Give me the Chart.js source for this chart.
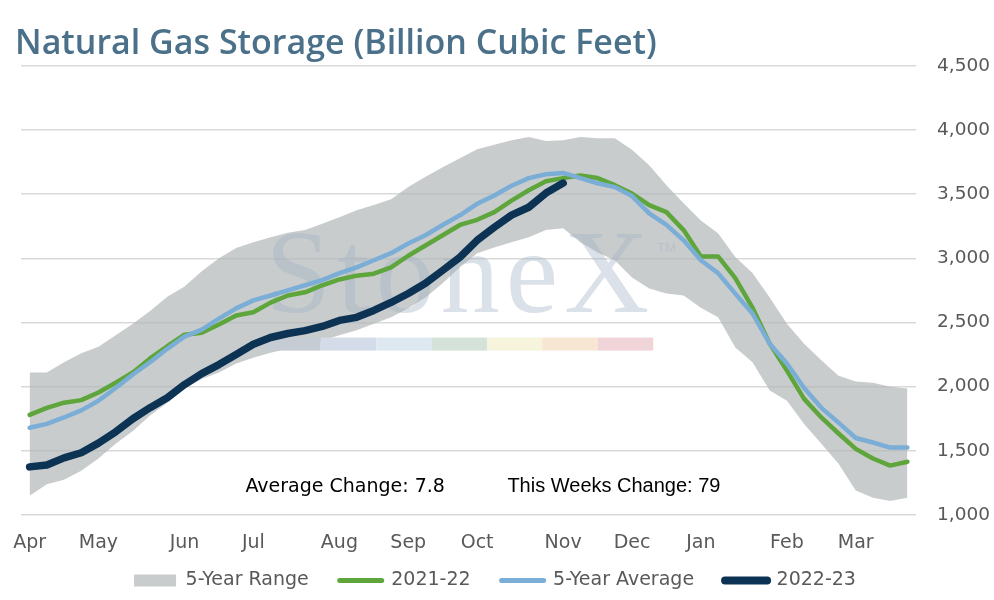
<!DOCTYPE html>
<html lang="en">
<head>
    <meta charset="UTF-8">
    <meta name="viewport" content="width=device-width, initial-scale=1.0">
    <title>Natural Gas Storage</title>
    <script src="https://cdn.jsdelivr.net/npm/chart.js"></script>
    <style>
        body {
            margin: 0;
            background: #fff;
        }
        .chart-container {
            position: relative;
            width: 994px;
            height: 600px;
        }
    </style>
</head>
<body>
    <div class="chart-container">
        <canvas id="storageChart"></canvas>
    </div>

    <script>
        // weekly storage, first week of April to last week of March
        const monthNames = ['Apr', 'May', 'Jun', 'Jul', 'Aug', 'Sep', 'Oct', 'Nov', 'Dec', 'Jan', 'Feb', 'Mar'];
        const monthWeeks = [0, 4, 9, 13, 18, 22, 26, 31, 35, 39, 44, 48];
        const weekCount = 52;

        const rangeHigh = [2110, 2110, 2190, 2260, 2310, 2400, 2490, 2590, 2700, 2780, 2900, 3000, 3080,
            3125, 3165, 3200, 3220, 3270, 3320, 3375, 3415, 3460, 3555, 3635, 3710, 3780,
            3850, 3885, 3920, 3945, 3915, 3920, 3945, 3935, 3935, 3845, 3725, 3570, 3430,
            3295, 3195, 3010, 2885, 2695, 2490, 2335, 2205, 2085, 2040, 2030, 2000, 1985];
        const rangeLow = [1150, 1240, 1275, 1345, 1440, 1555, 1655, 1775, 1875, 1985, 2060, 2110, 2180,
            2225, 2265, 2295, 2320, 2360, 2400, 2440, 2490, 2540, 2610, 2695, 2805, 2930,
            3040, 3085, 3125, 3165, 3220, 3235, 3125, 3045, 2985, 2850, 2765, 2725, 2710,
            2615, 2540, 2305, 2190, 1970, 1890, 1710, 1555, 1400, 1190, 1135, 1110, 1135];
        const storage2122 = [1780, 1835, 1875, 1895, 1955, 2030, 2110, 2220, 2315, 2405, 2420, 2485, 2555,
            2580, 2655, 2710, 2735, 2790, 2835, 2865, 2880, 2930, 3020, 3100, 3180, 3260,
            3300, 3360, 3450, 3530, 3600, 3625, 3645, 3625, 3570, 3505, 3415, 3360, 3220,
            3015, 3015, 2845, 2615, 2335, 2125, 1905, 1760, 1635, 1515, 1440, 1385, 1415];
        const fiveYearAvg = [1680, 1710, 1760, 1815, 1890, 1990, 2095, 2190, 2295, 2390, 2445, 2530, 2610,
            2672, 2710, 2750, 2790, 2830, 2885, 2930, 2985, 3040, 3115, 3180, 3260, 3335,
            3425, 3490, 3565, 3625, 3655, 3665, 3625, 3585, 3555, 3485, 3350, 3260, 3140,
            2985, 2885, 2725, 2570, 2335, 2180, 1990, 1835, 1720, 1600, 1565, 1525, 1525];
        const storage2223 = [1375, 1390, 1445, 1485, 1560, 1648, 1750, 1836, 1914, 2016, 2102, 2172, 2250,
            2330, 2383, 2414, 2437, 2469, 2516, 2540, 2594, 2656, 2726, 2805, 2906, 3008,
            3140, 3242, 3336, 3398, 3508, 3586];

        const avgChangeText = 'Average Change: 7.8';
        const weekChangeText = 'This Weeks Change: 79';

        const weekLabels = Array.from({ length: weekCount }, (_, i) => {
            const m = monthWeeks.indexOf(i);
            return m >= 0 ? monthNames[m] : '';
        });

        const bandColor = 'rgba(179, 183, 185, 0.71)'; // see-through so the grid shows
        const bandSwatch = '#c9cccd';
        const textGray = '#595959';
        const wideSans = '"DejaVu Sans", sans-serif';

        // StoneX logo sitting behind the lines, over the range band
        const watermark = {
            id: 'watermark',
            afterDatasetDraw(chart, args) {
                if (args.index !== 0) return;
                const { ctx, chartArea: a } = chart;
                const w = a.right - a.left, h = a.bottom - a.top;
                const x0 = a.left + w * 0.273;
                ctx.save();
                ctx.fillStyle = 'rgba(160, 175, 195, 0.38)';
                ctx.font = '118px "Liberation Serif", serif';
                ctx.letterSpacing = '6px';
                ctx.textBaseline = 'alphabetic';
                ctx.fillText('StoneX', x0, a.top + h * 0.549);
                ctx.letterSpacing = '0px';
                ctx.font = '13px "Liberation Sans", sans-serif';
                ctx.fillText('TM', a.left + w * 0.711, a.top + h * 0.415);
                const strip = ['#c5ccd4', '#d3dce8', '#dde8f1', '#d5e2da', '#f6f4dc', '#f7e6d3', '#f0d4d8'];
                const segW = w * 0.0619;
                strip.forEach((c, i) => {
                    ctx.fillStyle = c;
                    ctx.fillRect(x0 + i * segW, a.top + h * 0.605, segW, h * 0.029);
                });
                ctx.restore();
            }
        };

        const changeNotes = {
            id: 'changeNotes',
            afterDraw(chart) {
                const { ctx, scales: { x, y } } = chart;
                const ty = y.getPixelForValue(1219);
                ctx.save();
                ctx.fillStyle = '#000';
                ctx.textBaseline = 'middle';
                ctx.textAlign = 'left';
                ctx.font = '19px ' + wideSans;
                ctx.fillText(avgChangeText, x.getPixelForValue(12.54), ty);
                ctx.font = '20px "Liberation Sans", sans-serif';
                ctx.fillText(weekChangeText, x.getPixelForValue(27.76), ty);
                ctx.restore();
            }
        };

        const legendLineWidths = [0, 5, 5, 8];

        new Chart(document.getElementById('storageChart'), {
            type: 'line',
            data: {
                labels: weekLabels,
                datasets: [
                    {
                        label: '5-Year Range',
                        data: rangeHigh,
                        borderColor: 'rgba(0,0,0,0)',
                        borderWidth: 0,
                        backgroundColor: bandColor,
                        fill: 4,
                        order: 10
                    },
                    {
                        label: '2021-22',
                        data: storage2122,
                        borderColor: '#5ea63b',
                        borderWidth: 4.5,
                        fill: false,
                        order: 3
                    },
                    {
                        label: '5-Year Average',
                        data: fiveYearAvg,
                        borderColor: '#7aaed6',
                        borderWidth: 4.5,
                        fill: false,
                        order: 2
                    },
                    {
                        label: '2022-23',
                        data: storage2223,
                        borderColor: '#0c3354',
                        borderWidth: 7.5,
                        fill: false,
                        order: 1
                    },
                    {
                        label: 'rangeLow',
                        data: rangeLow,
                        borderColor: 'rgba(0,0,0,0)',
                        borderWidth: 0,
                        fill: false,
                        order: 10
                    }
                ]
            },
            options: {
                responsive: true,
                maintainAspectRatio: false,
                animation: false,
                layout: {
                    padding: { left: 15, right: 0, top: 0, bottom: 0 }
                },
                elements: {
                    point: { radius: 0, hoverRadius: 0 },
                    line: { tension: 0, borderJoinStyle: 'round', borderCapStyle: 'round' }
                },
                plugins: {
                    title: {
                        display: true,
                        text: 'Natural Gas Storage (Billion Cubic Feet)',
                        align: 'start',
                        color: '#4b7089',
                        font: { family: '"Open Sans", sans-serif', size: 34, weight: '600' },
                        padding: { top: 24, bottom: 1 }
                    },
                    legend: {
                        position: 'bottom',
                        labels: {
                            usePointStyle: true,
                            pointStyleWidth: 42,
                            boxHeight: 12,
                            padding: 12,
                            color: textGray,
                            font: { family: wideSans, size: 19 },
                            generateLabels: chart => chart.data.datasets.slice(0, 4).map((ds, i) => ({
                                text: ds.label + '\u2002\u2002',
                                datasetIndex: i,
                                pointStyle: i === 0 ? 'rect' : 'line',
                                fillStyle: i === 0 ? bandSwatch : ds.borderColor,
                                strokeStyle: i === 0 ? bandSwatch : ds.borderColor,
                                lineWidth: legendLineWidths[i],
                                lineCap: 'round',
                                fontColor: textGray,
                                hidden: false
                            }))
                        }
                    },
                    tooltip: { enabled: false }
                },
                scales: {
                    x: {
                        offset: true,
                        grid: { display: false },
                        border: { display: false },
                        ticks: {
                            autoSkip: false,
                            maxRotation: 0,
                            color: textGray,
                            font: { family: wideSans, size: 19 },
                            padding: 9
                        },
                        afterFit: s => { s.height = 44; }
                    },
                    y: {
                        position: 'right',
                        min: 1000,
                        max: 4500,
                        grid: { color: '#d9d9d9', lineWidth: 1.5, drawTicks: false },
                        border: { display: false },
                        ticks: {
                            stepSize: 500,
                            color: textGray,
                            padding: 21,
                            font: { family: wideSans, size: 18.5 },
                            callback: v => v.toLocaleString('en-US')
                        },
                        afterFit: s => { s.width = 78; }
                    },
                    yPad: {
                        position: 'left',
                        grid: { display: false },
                        border: { display: false },
                        ticks: { display: false },
                        afterFit: s => { s.width = 6; }
                    }
                }
            },
            plugins: [watermark, changeNotes]
        });
    </script>
</body>
</html>
